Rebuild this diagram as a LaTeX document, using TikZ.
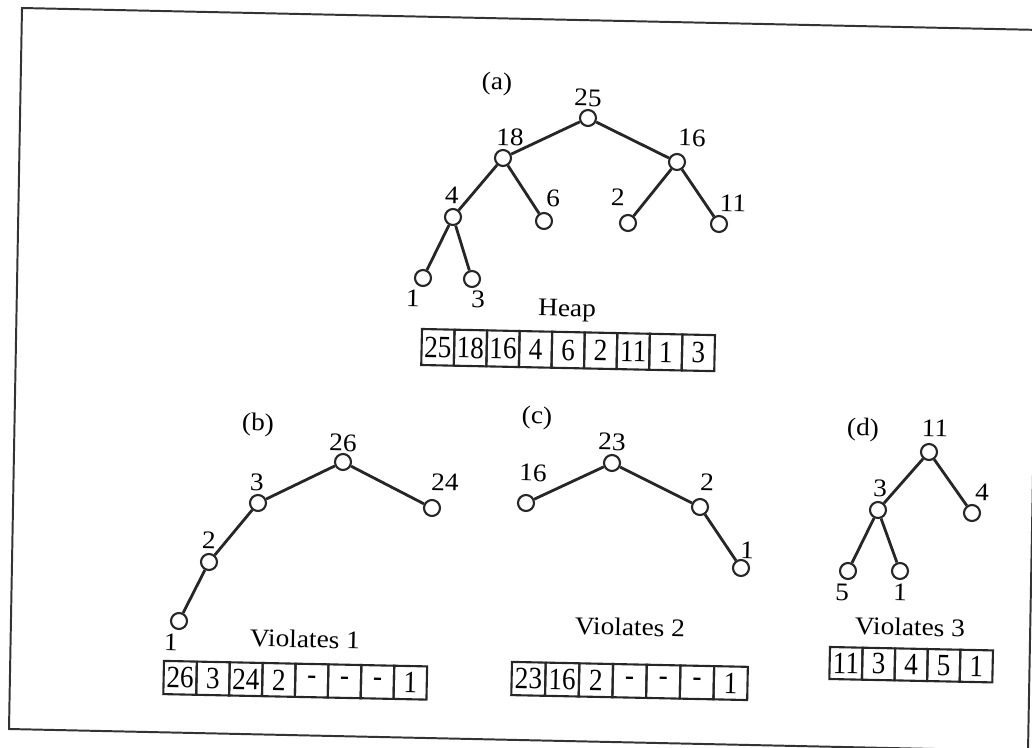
\documentclass[tikz,border=0pt]{standalone}
\usepackage{fontspec}
\setmainfont{Liberation Serif}
\newfontfamily\wideserif{Liberation Serif}[FakeStretch=1.08]
\newfontfamily\narrowserif{Liberation Serif}[FakeStretch=0.88]
\usetikzlibrary{positioning}

\begin{document}
\begin{tikzpicture}[x=0.025cm, y=-0.025cm,
		vtx/.style={circle, draw=black!85, line width=1.5pt, minimum size=0.4cm, inner sep=0pt, fill=white},
		edge/.style={line width=2pt, draw=black!85},
		lbl/.style={inner sep=0pt, rotate=-1.2, font=\wideserif\fontsize{18}{21}\selectfont},
		cell/.style={draw=black!85, line width=1.5pt, inner sep=0pt, minimum height=0.83cm, minimum width=0.82cm, font=\narrowserif\fontsize{22}{24}\selectfont}]
		\useasboundingbox (0,0) rectangle (1032,748);
		\draw[line width=1.4pt, black!80] (22,8) -- (1041,30) -- (1028,751) -- (9,729) -- cycle;
		
		% (a) the heap
		\node[lbl] (ta) at (497,84) {(a)};
		\node[vtx] (a25) at (588,118) {};
		\node[vtx] (a18) at (503,158) {};
		\node[vtx] (a16) at (677,162) {};
		\node[vtx] (a4) at (453,217) {};
		\node[vtx] (a6) at (544,221) {};
		\node[vtx] (a2) at (628,223) {};
		\node[vtx] (a11) at (719,224) {};
		\node[vtx] (a1) at (423,278) {};
		\node[vtx] (a3) at (472,279) {};
		\foreach \u/\v in {a25/a18, a25/a16, a18/a4, a18/a6, a16/a2, a16/a11, a4/a1, a4/a3}
			\draw[edge] (\u) -- (\v);
		\node[lbl] (la25) at (588,98) {25};
		\node[lbl] (la18) at (510,137) {18};
		\node[lbl] (la16) at (692,138) {16};
		\node[lbl] (la4) at (452,195) {4};
		\node[lbl] (la6) at (553,198) {6};
		\node[lbl] (la2) at (618,197) {2};
		\node[lbl] (la11) at (733,203) {11};
		\node[lbl] (la1) at (413,298) {1};
		\node[lbl] (la3) at (478,299) {3};
		\node[lbl] (heap) at (567,311) {Heap};
		\begin{scope}[shift={(422,329)}, rotate=-1.2, transform shape, cell/.append style={minimum width=0.814cm, minimum height=0.9cm}]
		\foreach \v [count=\i] in {25,18,16,4,6,2,11,1,3}
			\node[cell] (ha\i) at ({(\i-0.5)*32.56},18) {\v};
		\end{scope}
		
		% (b)
		\node[lbl] (tb) at (258,425) {(b)};
		\node[vtx] (b26) at (343,462) {};
		\node[vtx] (b3) at (258,503) {};
		\node[vtx] (b24) at (432,508) {};
		\node[vtx] (b2) at (209,562) {};
		\node[vtx] (b1) at (179,621) {};
		\foreach \u/\v in {b26/b3, b26/b24, b3/b2, b2/b1}
			\draw[edge] (\u) -- (\v);
		\node[lbl] (lb26) at (343,443) {26};
		\node[lbl] (lb3) at (257,482) {3};
		\node[lbl] (lb24) at (445,482) {24};
		\node[lbl] (lb2) at (209,540) {2};
		\node[lbl] (lb1) at (171,642) {1};
		\node[lbl] (vb) at (305,639) {Violates 1};
		\begin{scope}[shift={(164,661)}, rotate=-1.2, transform shape, cell/.append style={minimum width=0.822cm}]
		\foreach \v [count=\i] in {26,3,24,2,-,-,-,1}
			\node[cell] (hb\i) at ({(\i-0.5)*32.9},16.5) {\v};
		\end{scope}
		
		% (c)
		\node[lbl] (tc) at (537,418) {(c)};
		\node[vtx] (c23) at (612,463) {};
		\node[vtx] (c16) at (526,503) {};
		\node[vtx] (c2) at (700,507) {};
		\node[vtx] (c1) at (741,568) {};
		\foreach \u/\v in {c23/c16, c23/c2, c2/c1}
			\draw[edge] (\u) -- (\v);
		\node[lbl] (lc23) at (612,442) {23};
		\node[lbl] (lc16) at (533,473) {16};
		\node[lbl] (lc2) at (707,482) {2};
		\node[lbl] (lc1) at (747,550) {1};
		\node[lbl] (vc) at (630,627) {Violates 2};
		\begin{scope}[shift={(512,662)}, rotate=-1.2, transform shape, cell/.append style={minimum width=0.843cm}]
		\foreach \v [count=\i] in {23,16,2,-,-,-,1}
			\node[cell] (hc\i) at ({(\i-0.5)*33.7},16.5) {\v};
		\end{scope}
		
		% (d)
		\node[lbl] (td) at (863,430) {(d)};
		\node[vtx] (d11) at (929,452) {};
		\node[vtx] (d3) at (878,510) {};
		\node[vtx] (d4) at (972,513) {};
		\node[vtx] (d5) at (848,571) {};
		\node[vtx] (d1) at (900,571) {};
		\foreach \u/\v in {d11/d3, d11/d4, d3/d5, d3/d1}
			\draw[edge] (\u) -- (\v);
		\node[lbl] (ld11) at (935,428) {11};
		\node[lbl] (ld3) at (880,488) {3};
		\node[lbl] (ld4) at (982,492) {4};
		\node[lbl] (ld5) at (842,592) {5};
		\node[lbl] (ld1) at (900,592) {1};
		\node[lbl] (vd) at (910,627) {Violates 3};
		\begin{scope}[shift={(830,647)}, rotate=-1.2, transform shape, cell/.append style={minimum width=0.815cm, minimum height=0.8cm}]
		\foreach \v [count=\i] in {11,3,4,5,1}
			\node[cell] (hd\i) at ({(\i-0.5)*32.6},16) {\v};
		\end{scope}
\end{tikzpicture}
\end{document}
